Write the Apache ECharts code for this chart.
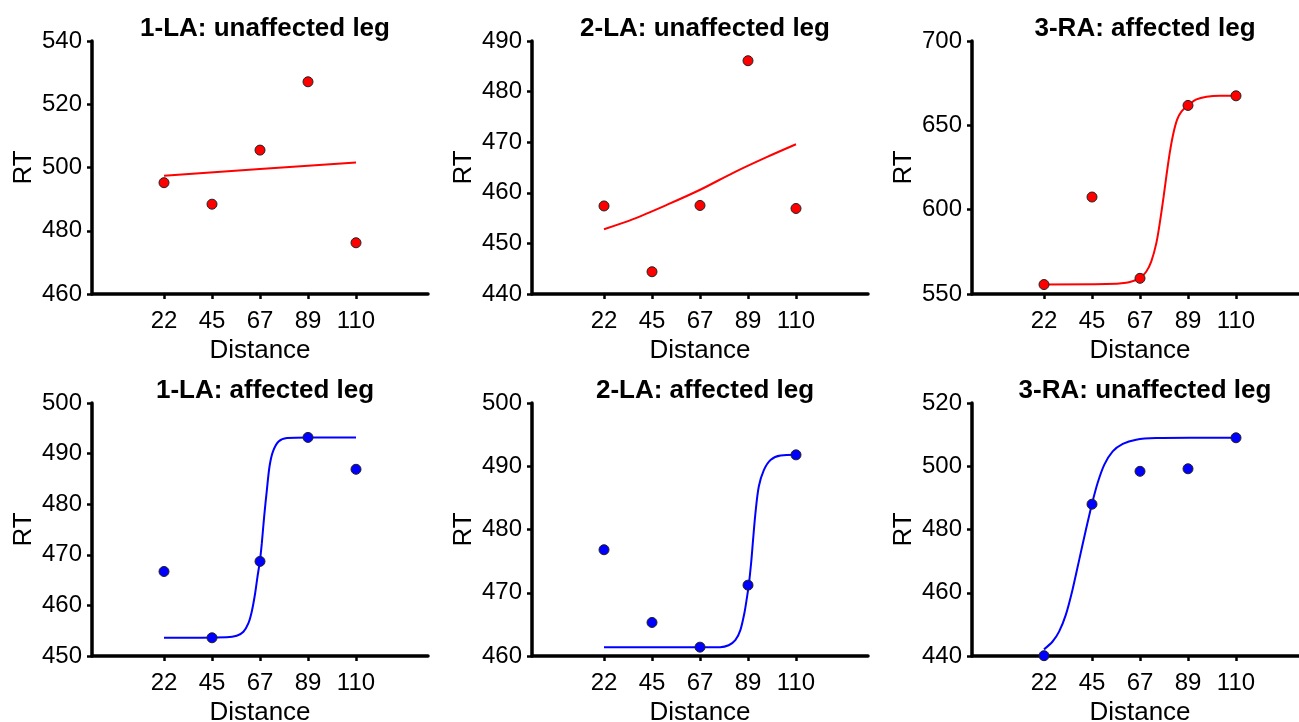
<!DOCTYPE html>
<html>
<head>
<meta charset="utf-8">
<script src="https://cdn.jsdelivr.net/npm/echarts@6/dist/echarts.min.js"></script>
<style>
html,body{margin:0;padding:0;background:#fff;}
#chart{width:1299px;height:722px;}
</style>
</head>
<body>
<div id="chart"></div>
<script>
// ---- data ----
const distanceLabels = ['22', '45', '67', '89', '110'];
const distancePositions = [1, 2, 3, 4, 5];

const panelTitles = ['1-LA: unaffected leg', '2-LA: unaffected leg', '3-RA: affected leg',
                     '1-LA: affected leg', '2-LA: affected leg', '3-RA: unaffected leg'];

const rt1LAUnaffected = [495.2, 488.4, 505.5, 527.1, 476.2];
const rt2LAUnaffected = [457.4, 444.4, 457.5, 486.1, 456.9];
const rt3RAAffected   = [555.6, 607.5, 559.3, 661.8, 667.5];
const rt1LAAffected   = [466.7, 453.6, 468.7, 493.2, 486.9];
const rt2LAAffected   = [476.8, 465.3, 461.4, 471.2, 491.8];
const rt3RAUnaffected = [440.1, 488.0, 498.4, 499.2, 509.0];

const fit1LAUnaffected = [[1, 497.4], [3, 499.5], [5, 501.6]];
const fit2LAUnaffected = [[1, 452.8], [1.607, 454.8], [2.305, 457.6], [3.003, 460.6], [3.701, 464.0], [4.4, 467.1], [5, 469.6]];
const fit3RAAffected = [[1, 555.7], [2.291, 555.9], [2.71, 556.7], [2.92, 558.3], [2.997, 559.3], [3.129, 563.2], [3.234, 569.2],
  [3.339, 580.0], [3.422, 593.9], [3.492, 607.7], [3.548, 619.6], [3.618, 633.4], [3.688, 644.3], [3.771, 653.2],
  [3.862, 658.1], [4.002, 661.9], [4.176, 665.4], [4.386, 667.0], [4.665, 667.6], [5, 667.6]];
const fit1LAAffected = [[1, 453.6], [2.305, 453.7], [2.515, 454.0], [2.654, 454.8], [2.759, 456.5], [2.829, 458.8], [2.899, 462.4],
  [2.948, 465.7], [2.997, 468.7], [3.038, 472.3], [3.087, 477.6], [3.143, 482.8], [3.199, 487.5], [3.269, 490.4],
  [3.387, 492.4], [3.562, 493.1], [4.002, 493.2], [5, 493.2]];
const fit2LAAffected = [[1, 461.4], [3.422, 461.4], [3.597, 461.7], [3.736, 462.5], [3.841, 464.1], [3.925, 466.8], [3.981, 469.4],
  [4.016, 471.2], [4.065, 474.7], [4.106, 478.4], [4.155, 482.6], [4.225, 486.8], [4.33, 489.4], [4.469, 491.0],
  [4.679, 491.7], [5, 491.8]];
const fit3RAUnaffected = [[1, 442.1], [1.175, 444.5], [1.314, 447.7], [1.454, 453.0], [1.593, 460.9], [1.733, 470.4], [1.873, 479.9],
  [1.998, 488.0], [2.117, 494.7], [2.257, 500.5], [2.431, 504.7], [2.641, 507.1], [2.92, 508.4], [3.339, 508.9],
  [4.037, 509.0], [5, 509.0]];

const yMins = [460, 440, 550, 450, 460, 440];
const yMaxs = [540, 490, 700, 500, 500, 520];
const yIntervals = [20, 10, 50, 10, 10, 20];

const pointSets = [rt1LAUnaffected, rt2LAUnaffected, rt3RAAffected, rt1LAAffected, rt2LAAffected, rt3RAUnaffected];
const fitSets = [fit1LAUnaffected, fit2LAUnaffected, fit3RAAffected, fit1LAAffected, fit2LAAffected, fit3RAUnaffected];

// ---- layout / style ----
const FONT = "'Liberation Sans', Arial, sans-serif";
const gridLefts = [92, 532, 972];
const gridTops = [41, 403];
const GW = 336, GH = 253;
const panelColors = ['#ff0000', '#ff0000', '#ff0000', '#0000ff', '#0000ff', '#0000ff'];
const fitSmooth = [false, 0.3, 0.3, 0.3, 0.3, 0.3];

const grids = [], xAxes = [], yAxes = [], titles = [], series = [];
for (let i = 0; i < 6; i++) {
  const row = Math.floor(i / 3), col = i % 3;
  const left = gridLefts[col], top = gridTops[row];
  grids.push({ left: left, top: top, width: GW, height: GH, containLabel: false, outerBoundsMode: 'none' });
  titles.push({
    text: panelTitles[i], left: left + GW / 2, top: top - 30, textAlign: 'center',
    textStyle: { fontFamily: FONT, fontWeight: 'bold', fontSize: 26, color: '#000' }
  });
  xAxes.push({
    type: 'value', gridIndex: i, min: -0.5, max: 6.5,
    name: 'Distance', nameLocation: 'middle', nameGap: 44,
    nameTextStyle: { fontFamily: FONT, fontSize: 26, color: '#000' },
    axisLine: { show: true, onZero: false, lineStyle: { color: '#000', width: 3.5 } },
    axisTick: { show: true, length: 5, lineStyle: { color: '#000', width: 2.5 }, customValues: distancePositions },
    axisLabel: {
      customValues: distancePositions, margin: 15,
      fontFamily: FONT, fontSize: 24, color: '#000',
      formatter: v => distanceLabels[distancePositions.indexOf(Math.round(v))]
    },
    splitLine: { show: false }
  });
  yAxes.push({
    type: 'value', gridIndex: i, min: yMins[i], max: yMaxs[i], interval: yIntervals[i],
    name: 'RT', nameLocation: 'middle', nameGap: 55, nameRotate: 90,
    nameTextStyle: { fontFamily: FONT, fontSize: 26, color: '#000' },
    axisLine: { show: true, onZero: false, lineStyle: { color: '#000', width: 3.5 } },
    axisTick: { show: true, length: 5, lineStyle: { color: '#000', width: 2.5 } },
    axisLabel: { margin: 10, fontFamily: FONT, fontSize: 24, color: '#000' },
    splitLine: { show: false }
  });
  series.push({
    type: 'line', xAxisIndex: i, yAxisIndex: i, data: fitSets[i],
    showSymbol: false, symbol: 'none', smooth: fitSmooth[i],
    lineStyle: { color: panelColors[i], width: 2 }, z: 2, silent: true, animation: false
  });
  series.push({
    type: 'scatter', xAxisIndex: i, yAxisIndex: i,
    data: distancePositions.map((p, k) => [p, pointSets[i][k]]),
    symbol: 'circle', symbolSize: 10, clip: false,
    itemStyle: { color: panelColors[i], borderColor: '#222', borderWidth: 1, opacity: 1 },
    z: 3, silent: true, animation: false
  });
}

const chart = echarts.init(document.getElementById('chart'), null, { renderer: 'canvas' });
chart.setOption({
  backgroundColor: '#fff',
  animation: false,
  title: titles,
  grid: grids,
  xAxis: xAxes,
  yAxis: yAxes,
  series: series
});
</script>
</body>
</html>
